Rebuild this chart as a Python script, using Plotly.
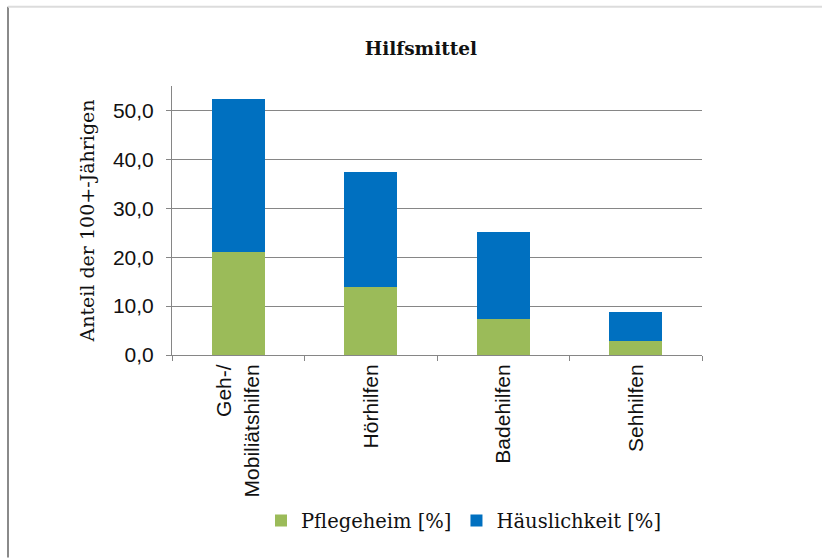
import plotly.graph_objects as go

# Hilfsmittel-Nutzung der 100+-Jährigen nach Wohnform (Anteile in %)
kategorien = ["Geh-/<br>Mobiliätshilfen", "Hörhilfen", "Badehilfen", "Sehhilfen"]
pflegeheim = [21.1, 14.0, 7.3, 2.9]
haeuslichkeit = [31.3, 23.5, 17.8, 5.8]
serien = ["Pflegeheim [%]", "Häuslichkeit [%]"]
farben = ["#9BBB59", "#0070C0"]

serif = "DejaVu Serif"
sans = "Liberation Sans"
grau = "#868686"

fig = go.Figure()
for name, werte, farbe in zip(serien, [pflegeheim, haeuslichkeit], farben):
    fig.add_trace(go.Bar(x=kategorien, y=werte, name=name,
                         marker=dict(color=farbe, line=dict(width=0))))

fig.update_layout(
    barmode="stack",
    bargap=0.6,
    width=822, height=558,
    margin=dict(l=172, r=120, t=86, b=203),
    paper_bgcolor="white", plot_bgcolor="white",
    separators=",.",
    title=dict(text="<b>Hilfsmittel</b>", x=0.512, xanchor="center",
               y=0.913, yanchor="middle",
               font=dict(family=serif, size=18.5, color="#111111")),
    legend=dict(orientation="h", x=0.55, xanchor="center", y=-0.616,
                yanchor="middle", font=dict(family=serif, size=19.5, color="#111111"),
                itemwidth=30, traceorder="normal"),
    showlegend=True,
)
fig.update_xaxes(
    type="category", showline=True, linecolor=grau, linewidth=1,
    ticks="outside", tickson="boundaries", ticklen=5, tickcolor=grau,
    tickangle=-90, tickfont=dict(family=sans, size=21, color="#111111"),
    showgrid=False, automargin=False,
)
fig.update_yaxes(
    range=[0, 55], tick0=0, dtick=10, tickformat=".1f",
    showline=True, linecolor=grau, linewidth=1,
    ticks="outside", ticklen=5, tickcolor=grau, ticklabelstandoff=8,
    showgrid=True, gridcolor=grau, gridwidth=1, zeroline=False,
    tickfont=dict(family=sans, size=21, color="#111111"),
    title=dict(text="Anteil der 100+-Jährigen", standoff=13,
               font=dict(family=serif, size=19, color="#111111")),
    automargin=False,
)

# Rahmen des Diagrammbereichs (links und oben)
fig.add_shape(type="line", xref="paper", yref="paper",
              x0=-172 / 530 + 8 / 530, x1=-172 / 530 + 8 / 530,
              y0=(355 - 558) / 269.5, y1=(355 - 6) / 269.5,
              line=dict(color="#8a8a8a", width=2))
fig.add_shape(type="line", xref="paper", yref="paper",
              x0=-172 / 530 + 8 / 530, x1=(822 - 172) / 530,
              y0=(355 - 6) / 269.5, y1=(355 - 6) / 269.5,
              line=dict(color="#dcdcdc", width=2))

fig.write_html("out.html")
